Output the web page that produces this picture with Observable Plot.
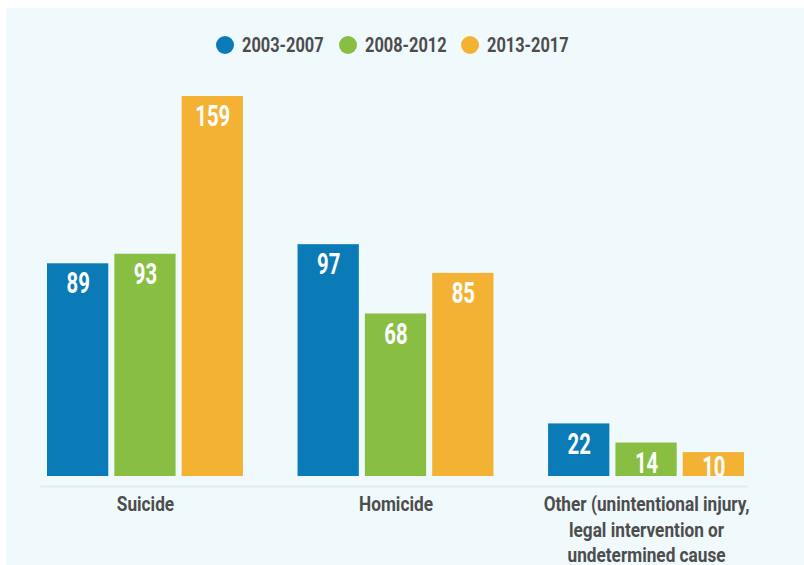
<!DOCTYPE html>
<html>
<head>
<meta charset="utf-8">
<script src="https://cdn.jsdelivr.net/npm/d3@7"></script>
<script src="https://cdn.jsdelivr.net/npm/@observablehq/plot@0.6"></script>
<style>
  html, body { margin: 0; padding: 0; background: #ffffff; }
  #wrap { position: relative; width: 804px; height: 565px; overflow: hidden; }
  #panel { position: absolute; left: 6px; top: 8px; width: 798px; height: 557px; background: #f0f9fc; }
  #legend { position: absolute; left: 216px; top: 33px; height: 24px; display: flex; align-items: center;
    font-family: Roboto, sans-serif; font-weight: bold; font-size: 21px; color: #4d4d4d; white-space: nowrap; }
  #legend .item { display: flex; align-items: center; margin-right: 15px; }
  #legend .dot { width: 18px; height: 18px; border-radius: 50%; margin-right: 8px; flex: none; }
  #legend .txt { display: inline-block; transform-origin: left center; }
  #chart { position: absolute; left: 0; top: 0; }
</style>
</head>
<body>
<div id="wrap">
  <div id="panel"></div>
  <div id="legend"></div>
  <div id="chart"></div>
</div>
<script>
const categories = ["Suicide", "Homicide", "Other"];
const categoryLabels = ["Suicide", "Homicide", "Other (unintentional injury,\nlegal intervention or\nundetermined cause"];
const periods = ["2003-2007", "2008-2012", "2013-2017"];
const values2003_2007 = [89, 97, 22];
const values2008_2012 = [93, 68, 14];
const values2013_2017 = [159, 85, 10];
const colors = ["#0a7bb7", "#88bf43", "#f4b234"];

const series = [values2003_2007, values2008_2012, values2013_2017];
const data = [];
categories.forEach((c, i) => {
  periods.forEach((p, j) => data.push({category: c, period: p, value: series[j][i]}));
});

const SQUEEZE_LEGEND = 0.78, SQUEEZE_CAT = 0.82, SQUEEZE_VAL = 0.7;

const legend = document.getElementById("legend");
periods.forEach((p, j) => {
  const item = document.createElement("div");
  item.className = "item";
  const dot = document.createElement("div");
  dot.className = "dot";
  dot.style.background = colors[j];
  const t = document.createElement("span");
  t.className = "txt";
  t.textContent = p;
  item.appendChild(dot); item.appendChild(t);
  legend.appendChild(item);
});
legend.querySelectorAll(".txt").forEach(t => {
  const w = t.getBoundingClientRect().width;
  t.style.transform = `scaleX(${SQUEEZE_LEGEND})`;
  t.style.marginRight = `${-(1 - SQUEEZE_LEGEND) * w}px`;
});

const font = 'Roboto, sans-serif';
const labelOf = new Map(categories.map((c, i) => [c, categoryLabels[i]]));
const valueText = {fx: "category", x: "period", y: "value", text: d => String(d.value), lineAnchor: "top",
  fill: "white", fontSize: 29, fontWeight: "bold", className: "vallabel"};

const chart = Plot.plot({
  width: 804,
  height: 565,
  marginLeft: 47,
  marginRight: 60,
  marginTop: 96,
  marginBottom: 89,
  style: {background: "transparent", fontFamily: font},
  fx: {domain: categories, paddingInner: 0.218, paddingOuter: 0, round: false, axis: null},
  x: {domain: periods, paddingInner: 0.09, paddingOuter: 0, round: false, axis: null},
  y: {domain: [0, 159], axis: null},
  color: {domain: periods, range: colors},
  marks: [
    Plot.frame({facet: "super", anchor: "bottom", dy: 10, stroke: "#e6eaec", strokeWidth: 2, insetLeft: -6, insetRight: -2}),
    Plot.barY(data, {fx: "category", x: "period", y: "value", fill: "period"}),
    Plot.text(data.filter(d => d.value > 12), {...valueText, dy: 9}),
    Plot.text(data.filter(d => d.value <= 12), {...valueText, dy: 4}),
    Plot.axisFx({anchor: "bottom", tickSize: 0, tickPadding: 17, fontSize: 21, fontWeight: "bold",
      lineHeight: 1.2, fill: "#4d4d4d", label: null, tickFormat: d => labelOf.get(d), className: "catlabel"})
  ]
});
document.getElementById("chart").appendChild(chart);

function squeeze(selector, k) {
  chart.querySelectorAll(selector + " text").forEach(t => {
    const spans = t.querySelectorAll("tspan");
    const els = spans.length ? Array.from(spans) : [t];
    els.forEach(e => {
      const len = e.getComputedTextLength();
      if (len > 0) {
        e.setAttribute("textLength", (len * k).toFixed(2));
        e.setAttribute("lengthAdjust", "spacingAndGlyphs");
      }
    });
  });
}
squeeze(".vallabel", SQUEEZE_VAL);
squeeze(".catlabel", SQUEEZE_CAT);
</script>
</body>
</html>
